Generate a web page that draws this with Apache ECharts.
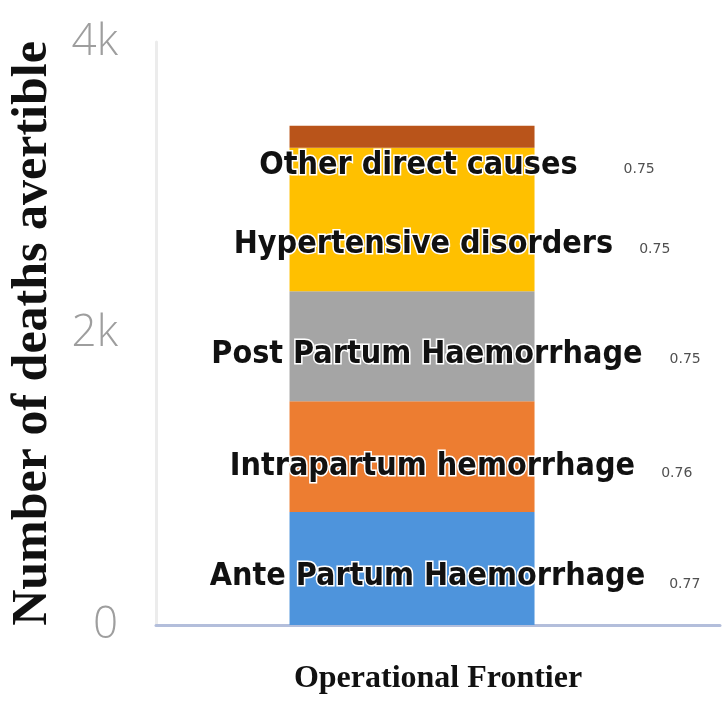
<!DOCTYPE html>
<html>
<head>
<meta charset="utf-8">
<title>Deaths avertible by cause</title>
<script src="https://cdn.jsdelivr.net/npm/echarts@6/dist/echarts.min.js"></script>
<style>
  html, body { margin: 0; padding: 0; background: #ffffff; }
  #chart { width: 724px; height: 706px; }
</style>
</head>
<body>
<div id="chart"></div>
<script>
// Single scenario on the x axis
const categories = ['Operational Frontier'];

// Causes, stacked from the bottom of the bar upwards
const causes = [
  'Ante Partum Haemorrhage',
  'Intrapartum hemorrhage',
  'Post Partum Haemorrhage',
  'Hypertensive disorders',
  'Other direct causes'
];

// Deaths avertible for each cause
const deaths = [775, 760, 755, 985, 150];

// Ratio printed next to each cause name
const ratios = ['0.77', '0.76', '0.75', '0.75', '0.75'];

// y axis ticks
const yTicks = [0, 2000, 4000];
const yTickLabels = ['0', '2k', '4k'];

const colors = ['#4e94dc', '#ed7d31', '#a5a5a5', '#ffc000', '#b9541a'];
// label placement per segment: [dx, dy], gap before ratio
const labelOffsets = [[43, 8], [49, 10], [44, 8], [40, 25], [45, 29]];
const ratioGaps = [24, 26, 27, 26, 46];
const ratioDrop = [16, 13, 10, 10, 8];

const chart = echarts.init(document.getElementById('chart'), null, { renderer: 'canvas' });

const series = causes.map((name, i) => ({
  name: name,
  type: 'bar',
  stack: 'deaths',
  barWidth: 245,
  barGap: '-78.8%',
  data: [deaths[i]],
  itemStyle: { color: colors[i] },
  label: {
    show: true,
    position: 'inside',
    offset: labelOffsets[i],
    formatter: () => '{n|' + name + '}{v|' + ratios[i] + '}',
    rich: {
      n: {
        fontFamily: '"DejaVu Sans Condensed", "Open Sans", sans-serif',
        fontWeight: 'bold',
        fontSize: 32,
        color: '#111111',
        textBorderColor: '#ffffff',
        textBorderWidth: 3
      },
      v: {
        fontFamily: '"DejaVu Sans", "Open Sans", sans-serif',
        fontSize: 14,
        color: '#505050',
        padding: [ratioDrop[i], 0, 0, ratioGaps[i]]
      }
    }
  },
  emphasis: { disabled: true }
}));

// an empty companion group shifts the visible stack left of the category centre
series.push({
  name: 'spacer',
  type: 'bar',
  stack: 'spacer',
  barWidth: 245,
  data: [null],
  silent: true
});

chart.setOption({
  animation: false,
  grid: { left: 156, right: 4, top: 42, bottom: 81, containLabel: false, outerBoundsMode: 'none' },
  xAxis: {
    type: 'category',
    data: categories,
    axisLine: { show: true, lineStyle: { color: '#b3bedb', width: 3 } },
    axisTick: { show: false },
    axisLabel: {
      margin: 38,
      fontFamily: '"Liberation Serif", "Times New Roman", serif',
      fontWeight: 'bold',
      fontSize: 32,
      color: '#111111'
    }
  },
  yAxis: {
    type: 'value',
    min: yTicks[0],
    max: yTicks[yTicks.length - 1],
    interval: yTicks[1] - yTicks[0],
    name: 'Number of deaths avertible',
    nameLocation: 'middle',
    nameGap: 98,
    nameTextStyle: {
      fontFamily: '"Liberation Serif", "Times New Roman", serif',
      fontWeight: 'bold',
      fontSize: 50,
      color: '#111111'
    },
    axisLine: { show: true, lineStyle: { color: '#ececec', width: 3 } },
    axisTick: { show: false },
    splitLine: { show: false },
    axisLabel: {
      margin: 38,
      fontFamily: '"Open Sans", "Lato", sans-serif',
      fontWeight: 300,
      fontSize: 44,
      color: '#9e9e9e',
      formatter: (v) => yTickLabels[yTicks.indexOf(v)]
    }
  },
  series: series
});
</script>
</body>
</html>
